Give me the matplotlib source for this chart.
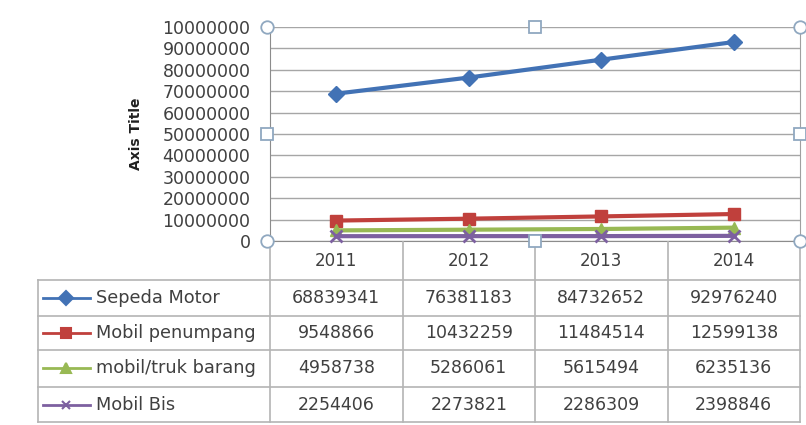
import matplotlib
matplotlib.use("Agg")
import matplotlib.pyplot as plt
from matplotlib.lines import Line2D

# data
years = ["2011", "2012", "2013", "2014"]
series_names = ["Sepeda Motor", "Mobil penumpang", "mobil/truk barang", "Mobil Bis"]
sepeda_motor = [68839341, 76381183, 84732652, 92976240]
mobil_penumpang = [9548866, 10432259, 11484514, 12599138]
mobil_truk_barang = [4958738, 5286061, 5615494, 6235136]
mobil_bis = [2254406, 2273821, 2286309, 2398846]
y_ticks = [0, 10000000, 20000000, 30000000, 40000000, 50000000,
           60000000, 70000000, 80000000, 90000000, 100000000]
y_tick_labels = ["0", "10000000", "20000000", "30000000", "40000000", "50000000",
                 "60000000", "70000000", "80000000", "90000000", "10000000"]

series = [sepeda_motor, mobil_penumpang, mobil_truk_barang, mobil_bis]
colors = ["#4272B5", "#C0403C", "#98B954", "#7D60A0"]
markers = ["D", "s", "^", "x"]
msizes = [8, 9, 9, 8]

W, H = 806, 425
fig = plt.figure(figsize=(W / 100, H / 100), dpi=100)
plt.rcParams["font.family"] = "DejaVu Sans"

# plot area in pixels
px_l, px_r, px_t, px_b = 270, 800, 27, 241
ax = fig.add_axes([px_l / W, 1 - px_b / H, (px_r - px_l) / W, (px_b - px_t) / H])
x = list(range(len(years)))
for vals, c, m, ms in zip(series, colors, markers, msizes):
    ax.plot(x, vals, color=c, lw=3, marker=m, ms=ms, mew=2 if m == "x" else 1,
            mec=c, mfc=c, zorder=3, clip_on=False)

ax.set_xlim(-0.5, len(years) - 0.5)
ax.set_ylim(0, 100000000)
ax.set_yticks(y_ticks)
ax.set_yticklabels(y_tick_labels, fontsize=12.5, color="#404040")
ax.set_xticks([])
ax.tick_params(axis="y", length=0, pad=14)
ax.grid(axis="y", color="#A6A6A6", lw=1)
ax.set_axisbelow(True)
ax.spines["top"].set_visible(False)
ax.spines["left"].set_color("#8C8C8C")
ax.spines["bottom"].set_color("#8C8C8C")
ax.spines["right"].set_color("#A0A0A0")
ax.set_ylabel("Axis Title", fontsize=10, fontweight="bold", color="#202020", labelpad=14)

# table below the plot, in pixel coordinates
tab = fig.add_axes([0, 0, 1, 1 - px_b / H])
tab.set_xlim(0, W)
tab.set_ylim(H, px_b)
tab.axis("off")
col_w = (px_r - px_l) / len(years)
col_edges = [px_l + i * col_w for i in range(len(years) + 1)]
row_edges = [241, 280, 316, 350, 387, 422]
tab_left = 38
lc = "#B4B4B4"
for xe in col_edges:
    tab.plot([xe, xe], [row_edges[0], row_edges[-1]], color=lc, lw=1.2)
tab.plot([tab_left, tab_left], [row_edges[1], row_edges[-1]], color=lc, lw=1.2)
for ye in row_edges[1:]:
    tab.plot([tab_left, px_r], [ye, ye], color=lc, lw=1.2)

for i, yr in enumerate(years):
    cx = col_edges[i] + col_w / 2
    tab.text(cx, (row_edges[0] + row_edges[1]) / 2 + 1, yr, ha="center", va="center",
             fontsize=12, color="#404040")

for r, (name, vals, c, m) in enumerate(zip(series_names, series, colors, markers)):
    cy = (row_edges[r + 1] + row_edges[r + 2]) / 2
    tab.add_line(Line2D([43, 90], [cy, cy], color=c, lw=2))
    tab.plot([66], [cy], marker=m, color=c, ms=7 if m != "x" else 6, mew=1.5)
    tab.text(96, cy, name, ha="left", va="center", fontsize=12.8, color="#404040")
    for i, v in enumerate(vals):
        cx = col_edges[i] + col_w / 2
        tab.text(cx, cy, str(v), ha="center", va="center", fontsize=12.5, color="#404040")

# selection handles of the plot area
hax = fig.add_axes([0, 0, 1, 1])
hax.set_xlim(0, W)
hax.set_ylim(H, 0)
hax.axis("off")
xm, ym = (px_l + px_r) / 2, (px_t + px_b) / 2
for hx, hy in [(px_l - 3, px_t), (px_r, px_t), (px_l - 3, px_b), (px_r, px_b)]:
    hax.plot([hx], [hy], marker="o", ms=9, mfc="white", mec="#90A8C0", mew=1.3)
for hx, hy in [(xm, px_t), (px_l - 3, ym), (px_r, ym), (xm, px_b)]:
    hax.plot([hx], [hy], marker="s", ms=8, mfc="white", mec="#90A8C0", mew=1.3)

fig.savefig("out.png", dpi=100)
